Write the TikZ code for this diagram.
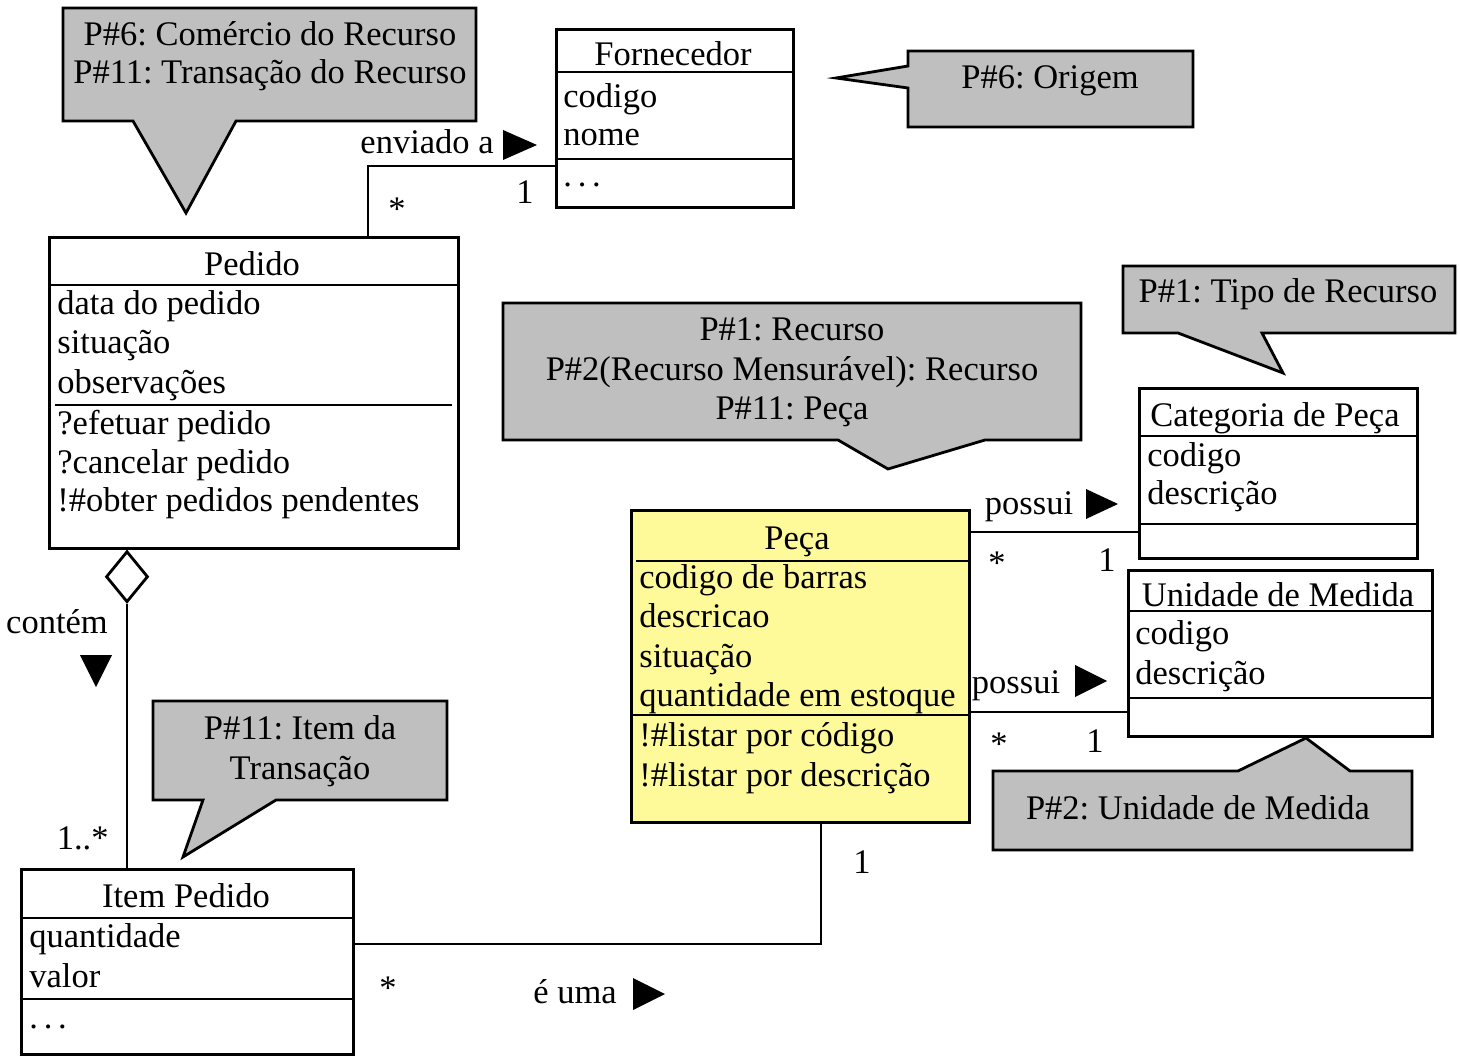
\documentclass[tikz,border=0pt]{standalone}
\usepackage{fontspec}
\setmainfont{Liberation Serif}
\usetikzlibrary{shapes.geometric}
\frenchspacing

\begin{document}
\begin{tikzpicture}[x=1pt, y=-1pt,
    font=\fontsize{34.5}{40}\selectfont,
    line width=2.8pt,
    classe/.style={draw, anchor=north west, inner sep=0pt, fill=white},
    riga/.style={anchor=base west, inner sep=0pt},
    titolo/.style={anchor=base, inner sep=0pt},
    nota/.style={draw, fill=\colorNota, line join=miter}]

    % Colori usati nel diagramma
    \def\colorNota{black!25}
    \def\colorPeca{yellow!40}

    \useasboundingbox (0,0) rectangle (1460,1059);

    % Note grigie (pattern)
    \filldraw[nota] (63,8) -- (476,8) -- (476,121) -- (236,121) -- (186,213) -- (133,121) -- (63,121) -- cycle;
    \node[titolo] (notaComercio) at (270,46) {P\#6: Comércio do Recurso};
    \node[titolo] (notaTransacao) at (270,84) {P\#11: Transação do Recurso};

    \filldraw[nota] (908,51) -- (1193,51) -- (1193,127) -- (908,127) -- (908,88) -- (836,78) -- (908,66) -- cycle;
    \node[titolo] (notaOrigem) at (1050,89) {P\#6: Origem};

    \filldraw[nota] (503,303) -- (1081,303) -- (1081,440) -- (985,440) -- (888,469) -- (838,440) -- (503,440) -- cycle;
    \node[titolo] (notaRec1) at (792,341) {P\#1: Recurso};
    \node[titolo] (notaRec2) at (792,381) {P\#2(Recurso Mensurável): Recurso};
    \node[titolo] (notaRec3) at (792,419) {P\#11: Peça};

    \filldraw[nota] (1123,266) -- (1455,266) -- (1455,333) -- (1262,333) -- (1283,373) -- (1178,333) -- (1123,333) -- cycle;
    \node[titolo] (notaTipo) at (1288,303) {P\#1: Tipo de Recurso};

    \filldraw[nota] (153,701) -- (447,701) -- (447,800) -- (276,800) -- (183,857) -- (203,800) -- (153,800) -- cycle;
    \node[titolo] (notaItem1) at (300,739) {P\#11: Item da};
    \node[titolo] (notaItem2) at (300,779) {Transação};

    \filldraw[nota] (993,771) -- (1238,771) -- (1306,738) -- (1350,771) -- (1412,771) -- (1412,850) -- (993,850) -- cycle;
    \node[titolo] (notaUnid) at (1198,819) {P\#2: Unidade de Medida};

    % Classe Fornecedor
    \node[classe, minimum width=237, minimum height=178] (forn) at (555,28) {};
    \draw (forn.west |- 0,72) -- (forn.east |- 0,72);
    \draw (forn.west |- 0,159) -- (forn.east |- 0,159);
    \node[titolo] (fornNome) at (673,66) {Fornecedor};
    \node[riga] (fornCod) at (562,108) {codigo};
    \node[riga] (fornNom) at (562,146) {nome};
    \node[riga] (fornEtc) at (562,187) {.\,.\,.};

    % Classe Pedido
    \node[classe, minimum width=409, minimum height=311] (pedido) at (48,236) {};
    \draw (pedido.west |- 0,285) -- (pedido.east |- 0,285);
    \draw (55,405) -- (452,405);
    \node[titolo] (pedNome) at (252,276) {Pedido};
    \node[riga] (pedData) at (56,315) {data do pedido};
    \node[riga] (pedSit) at (56,354) {situação};
    \node[riga] (pedObs) at (56,394) {observações};
    \node[riga] (pedEfet) at (56,434) {?efetuar pedido};
    \node[riga] (pedCanc) at (56,473) {?cancelar pedido};
    \node[riga] (pedObt) at (56,511) {!\#obter pedidos pendentes};

    % Classe Item Pedido
    \node[classe, minimum width=332, minimum height=185] (item) at (20,868) {};
    \draw (item.west |- 0,918) -- (item.east |- 0,918);
    \draw (item.west |- 0,999) -- (item.east |- 0,999);
    \node[titolo] (itemNome) at (186,907) {Item Pedido};
    \node[riga] (itemQtd) at (28,947) {quantidade};
    \node[riga] (itemVal) at (28,987) {valor};
    \node[riga] (itemEtc) at (28,1028) {.\,.\,.};

    % Classe Peça
    \node[classe, fill=\colorPeca, minimum width=338, minimum height=312] (peca) at (630,509) {};
    \draw (636,561) -- (peca.east |- 0,561);
    \draw (peca.west |- 0,715) -- (971,715);
    \node[titolo] (pecaNome) at (797,549) {Peça};
    \node[riga] (pecaCod) at (638,588) {codigo de barras};
    \node[riga] (pecaDesc) at (638,627) {descricao};
    \node[riga] (pecaSit) at (638,667) {situação};
    \node[riga] (pecaQtd) at (638,706) {quantidade em estoque};
    \node[riga] (pecaOp1) at (638,746) {!\#listar por código};
    \node[riga] (pecaOp2) at (638,786) {!\#listar por descrição};

    % Classe Categoria de Peça
    \node[classe, minimum width=278, minimum height=170] (cat) at (1138,387) {};
    \draw (cat.west |- 0,436) -- (cat.east |- 0,436);
    \draw (cat.west |- 0,524) -- (1419,524);
    \node[titolo] (catNome) at (1275,426) {Categoria de Peça};
    \node[riga] (catCod) at (1146,466) {codigo};
    \node[riga] (catDesc) at (1146,504) {descrição};

    % Classe Unidade de Medida
    \node[classe, minimum width=304, minimum height=166] (unid) at (1127,569) {};
    \draw (unid.west |- 0,611) -- (unid.east |- 0,611);
    \draw (unid.west |- 0,698) -- (unid.east |- 0,698);
    \node[titolo] (unidNome) at (1278,606) {Unidade de Medida};
    \node[riga] (unidCod) at (1134,644) {codigo};
    \node[riga] (unidDesc) at (1134,684) {descrição};

    % Associazione Pedido -- Fornecedor
    \draw (pedido.north -| 368,0) |- (forn.west |- 0,166);
    \node[titolo, anchor=base east] (lblEnviado) at (495,154) {enviado a};
    \fill (503,130) -- (537,145) -- (503,160) -- cycle;
    \node[titolo] (multPed) at (397,221) {*};
    \node[titolo] (multForn) at (525,204) {1};

    % Aggregazione Pedido -- Item Pedido
    \node[diamond, draw, fill=white, inner sep=0pt, minimum width=42, minimum height=51, anchor=north] (losango) at (pedido.south -| 127,0) {};
    \draw (losango.south) -- (item.north -| losango.south);
    \node[titolo] (lblContem) at (57,633) {contém};
    \fill (80,655) -- (112,655) -- (96,687) -- cycle;
    \node[titolo, anchor=base east] (multItem) at (110,849) {1..*};

    % Associazione Item Pedido -- Peça
    \draw (item.east |- 0,944) -| (peca.south -| 821,0);
    \node[titolo] (multItemPeca) at (388,999) {*};
    \node[titolo] (lblEUma) at (575,1003) {é uma};
    \fill (633,978) -- (665,994) -- (633,1010) -- cycle;
    \node[titolo] (multPeca) at (862,873) {1};

    % Associazioni Peça -- Categoria / Unidade
    \draw (peca.east |- 0,532) -- (cat.west |- 0,532);
    \node[titolo] (lblPossui1) at (1029,514) {possui};
    \fill (1086,489) -- (1118,504) -- (1086,519) -- cycle;
    \node[titolo] (multPecaCat) at (997,574) {*};
    \node[titolo] (multCat) at (1107,571) {1};

    \draw (peca.east |- 0,712) -- (unid.west |- 0,712);
    \node[titolo] (lblPossui2) at (1016,693) {possui};
    \fill (1075,665) -- (1107,681) -- (1075,697) -- cycle;
    \node[titolo] (multPecaUnid) at (999,755) {*};
    \node[titolo] (multUnid) at (1095,752) {1};

\end{tikzpicture}
\end{document}
